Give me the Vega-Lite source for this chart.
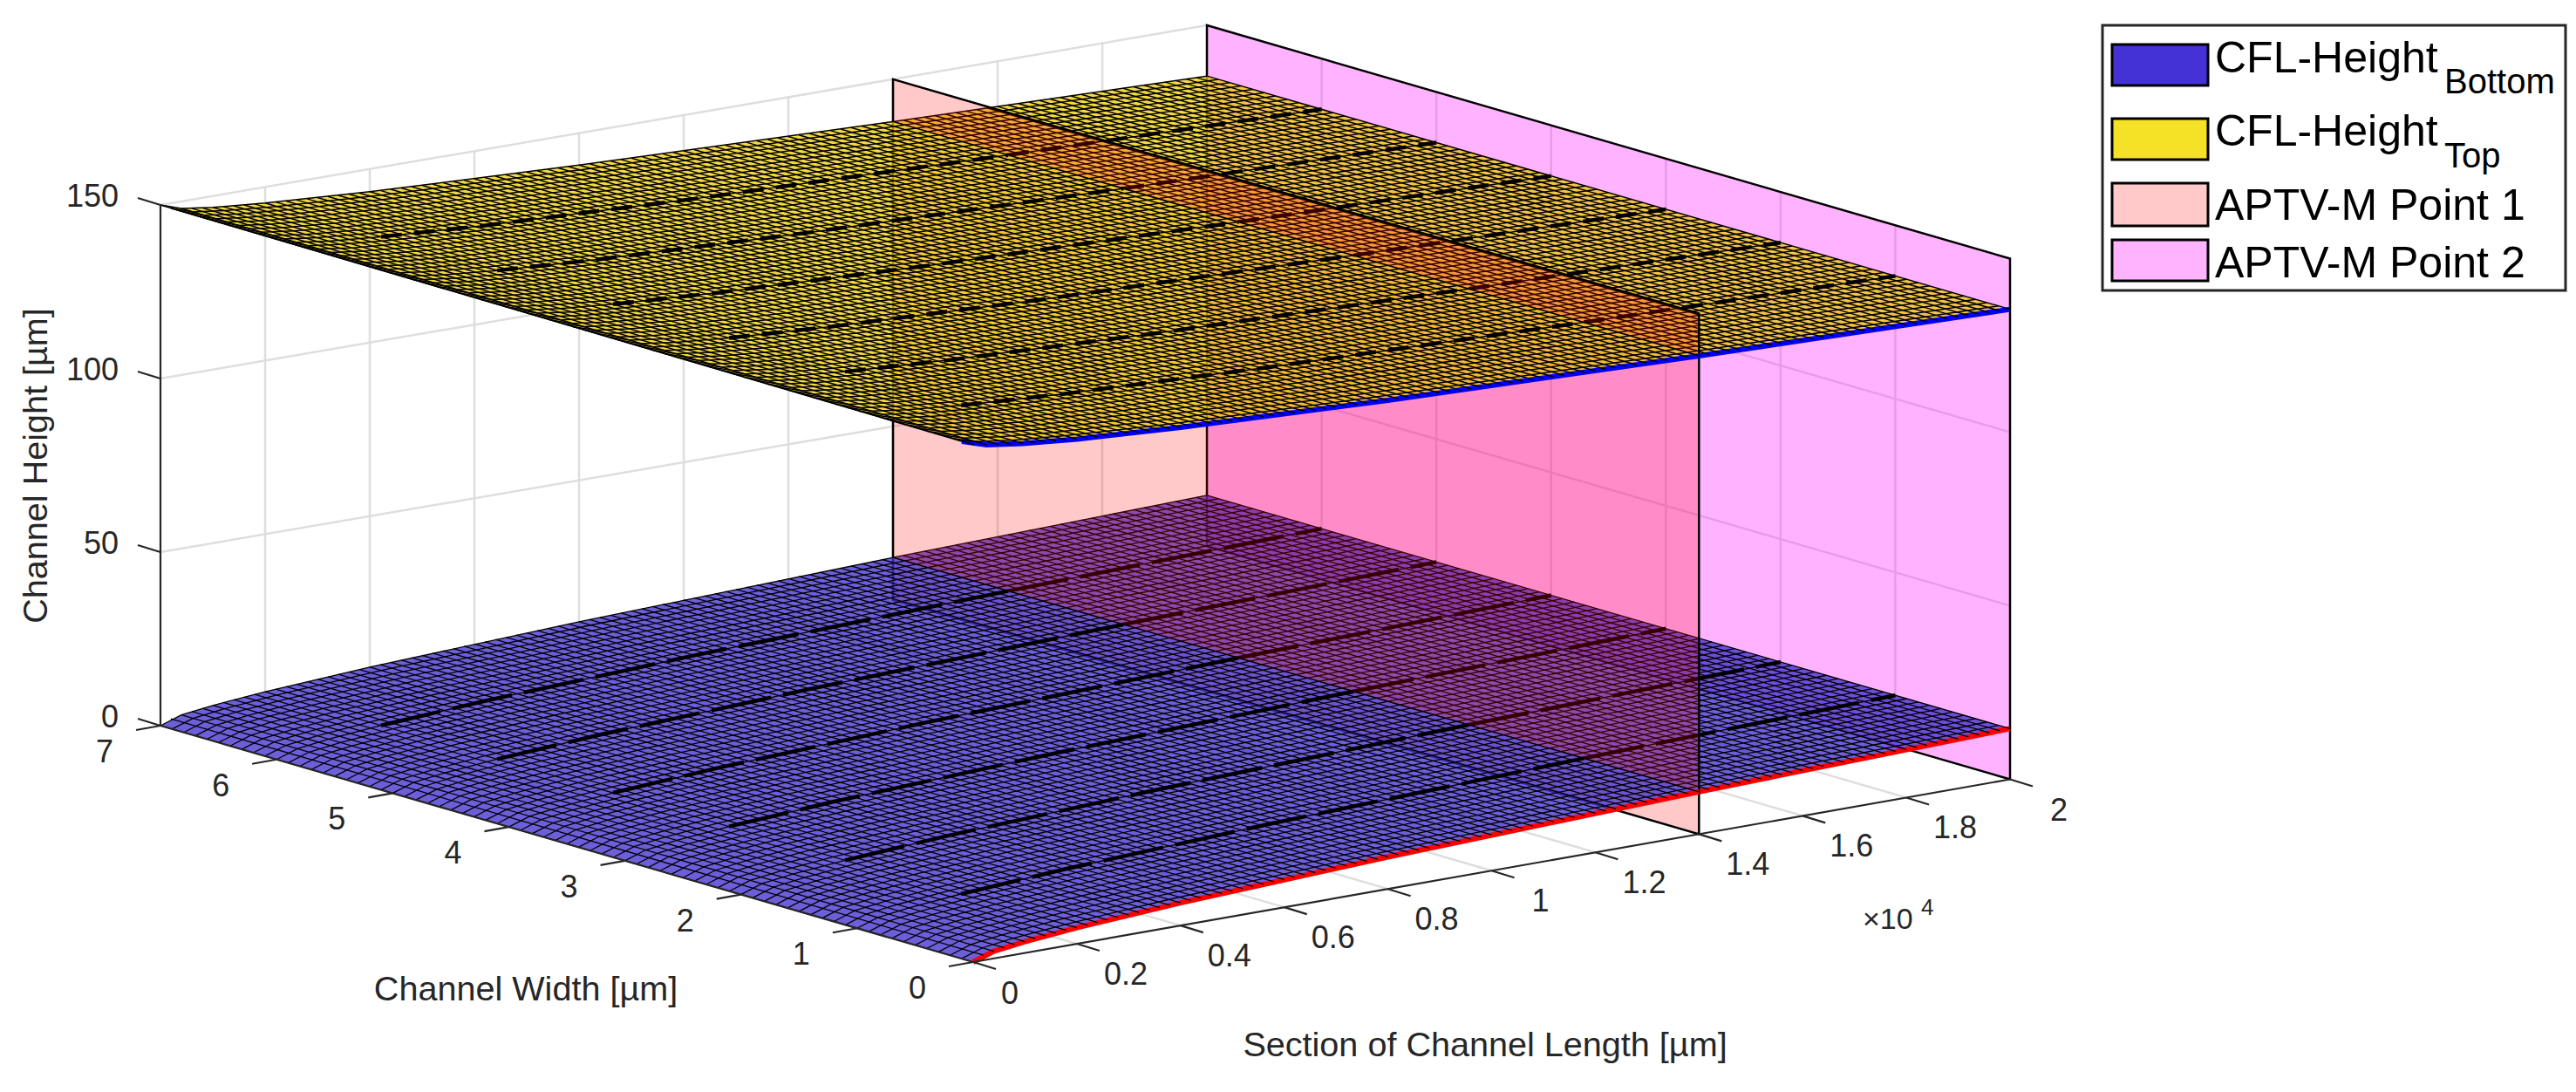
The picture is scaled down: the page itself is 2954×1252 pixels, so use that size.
{"$schema":"https://vega.github.io/schema/vega-lite/v6.json","width":2954,"height":1252,"padding":0,"autosize":{"type":"fit","contains":"padding"},"background":"white","config":{"view":{"stroke":null},"text":{"font":"Liberation Sans","color":"#262626"}},
"datasets":{
"lg":[
{"L":0,"B":0,"T":150,"W":[0,0.1,0.2,0.3,0.4,0.5,0.6,0.7,0.8,0.9,1,1.1,1.2,1.3,1.4,1.5,1.6,1.7,1.8,1.9,2,2.1,2.2,2.3,2.4,2.5,2.6,2.7,2.8,2.9,3,3.1,3.2,3.3,3.4,3.5,3.6,3.7,3.8,3.9,4,4.1,4.2,4.3,4.4,4.5,4.6,4.7,4.8,4.9,5,5.1,5.2,5.3,5.4,5.5,5.6,5.7,5.8,5.9,6,6.1,6.2,6.3,6.4,6.5,6.6,6.7,6.8,6.9,7]},
{"L":0.04,"B":2.06,"T":147.94,"W":[0,0.1,0.2,0.3,0.4,0.5,0.6,0.7,0.8,0.9,1,1.1,1.2,1.3,1.4,1.5,1.6,1.7,1.8,1.9,2,2.1,2.2,2.3,2.4,2.5,2.6,2.7,2.8,2.9,3,3.1,3.2,3.3,3.4,3.5,3.6,3.7,3.8,3.9,4,4.1,4.2,4.3,4.4,4.5,4.6,4.7,4.8,4.9,5,5.1,5.2,5.3,5.4,5.5,5.6,5.7,5.8,5.9,6,6.1,6.2,6.3,6.4,6.5,6.6,6.7,6.8,6.9,7]},
{"L":0.1,"B":3.26,"T":146.74,"W":[0,0.1,0.2,0.3,0.4,0.5,0.6,0.7,0.8,0.9,1,1.1,1.2,1.3,1.4,1.5,1.6,1.7,1.8,1.9,2,2.1,2.2,2.3,2.4,2.5,2.6,2.7,2.8,2.9,3,3.1,3.2,3.3,3.4,3.5,3.6,3.7,3.8,3.9,4,4.1,4.2,4.3,4.4,4.5,4.6,4.7,4.8,4.9,5,5.1,5.2,5.3,5.4,5.5,5.6,5.7,5.8,5.9,6,6.1,6.2,6.3,6.4,6.5,6.6,6.7,6.8,6.9,7]},
{"L":0.2,"B":4.62,"T":145.38,"W":[0,0.1,0.2,0.3,0.4,0.5,0.6,0.7,0.8,0.9,1,1.1,1.2,1.3,1.4,1.5,1.6,1.7,1.8,1.9,2,2.1,2.2,2.3,2.4,2.5,2.6,2.7,2.8,2.9,3,3.1,3.2,3.3,3.4,3.5,3.6,3.7,3.8,3.9,4,4.1,4.2,4.3,4.4,4.5,4.6,4.7,4.8,4.9,5,5.1,5.2,5.3,5.4,5.5,5.6,5.7,5.8,5.9,6,6.1,6.2,6.3,6.4,6.5,6.6,6.7,6.8,6.9,7]},
{"L":0.4,"B":6.53,"T":143.47,"W":[0,0.1,0.2,0.3,0.4,0.5,0.6,0.7,0.8,0.9,1,1.1,1.2,1.3,1.4,1.5,1.6,1.7,1.8,1.9,2,2.1,2.2,2.3,2.4,2.5,2.6,2.7,2.8,2.9,3,3.1,3.2,3.3,3.4,3.5,3.6,3.7,3.8,3.9,4,4.1,4.2,4.3,4.4,4.5,4.6,4.7,4.8,4.9,5,5.1,5.2,5.3,5.4,5.5,5.6,5.7,5.8,5.9,6,6.1,6.2,6.3,6.4,6.5,6.6,6.7,6.8,6.9,7]},
{"L":0.8,"B":9.23,"T":140.77,"W":[0,0.1,0.2,0.3,0.4,0.5,0.6,0.7,0.8,0.9,1,1.1,1.2,1.3,1.4,1.5,1.6,1.7,1.8,1.9,2,2.1,2.2,2.3,2.4,2.5,2.6,2.7,2.8,2.9,3,3.1,3.2,3.3,3.4,3.5,3.6,3.7,3.8,3.9,4,4.1,4.2,4.3,4.4,4.5,4.6,4.7,4.8,4.9,5,5.1,5.2,5.3,5.4,5.5,5.6,5.7,5.8,5.9,6,6.1,6.2,6.3,6.4,6.5,6.6,6.7,6.8,6.9,7]},
{"L":1.4,"B":12.21,"T":137.79,"W":[0,0.1,0.2,0.3,0.4,0.5,0.6,0.7,0.8,0.9,1,1.1,1.2,1.3,1.4,1.5,1.6,1.7,1.8,1.9,2,2.1,2.2,2.3,2.4,2.5,2.6,2.7,2.8,2.9,3,3.1,3.2,3.3,3.4,3.5,3.6,3.7,3.8,3.9,4,4.1,4.2,4.3,4.4,4.5,4.6,4.7,4.8,4.9,5,5.1,5.2,5.3,5.4,5.5,5.6,5.7,5.8,5.9,6,6.1,6.2,6.3,6.4,6.5,6.6,6.7,6.8,6.9,7]},
{"L":2,"B":14.6,"T":135.4,"W":[0,0.1,0.2,0.3,0.4,0.5,0.6,0.7,0.8,0.9,1,1.1,1.2,1.3,1.4,1.5,1.6,1.7,1.8,1.9,2,2.1,2.2,2.3,2.4,2.5,2.6,2.7,2.8,2.9,3,3.1,3.2,3.3,3.4,3.5,3.6,3.7,3.8,3.9,4,4.1,4.2,4.3,4.4,4.5,4.6,4.7,4.8,4.9,5,5.1,5.2,5.3,5.4,5.5,5.6,5.7,5.8,5.9,6,6.1,6.2,6.3,6.4,6.5,6.6,6.7,6.8,6.9,7]}
],
"wl":[
{"L":0,"B":0,"T":150},{"L":0.02,"B":1.46,"T":148.54},{"L":0.04,"B":2.06,"T":147.94},{"L":0.06,"B":2.53,"T":147.47},{"L":0.08,"B":2.92,"T":147.08},{"L":0.1,"B":3.26,"T":146.74},{"L":0.12,"B":3.57,"T":146.43},{"L":0.14,"B":3.86,"T":146.14},{"L":0.16,"B":4.13,"T":145.87},{"L":0.18,"B":4.38,"T":145.62},{"L":0.2,"B":4.62,"T":145.38},{"L":0.22,"B":4.84,"T":145.16},{"L":0.24,"B":5.06,"T":144.94},{"L":0.26,"B":5.26,"T":144.74},{"L":0.28,"B":5.46,"T":144.54},{"L":0.3,"B":5.65,"T":144.35},{"L":0.32,"B":5.84,"T":144.16},{"L":0.34,"B":6.02,"T":143.98},{"L":0.36,"B":6.19,"T":143.81},{"L":0.38,"B":6.36,"T":143.64},{"L":0.4,"B":6.53,"T":143.47},{"L":0.42,"B":6.69,"T":143.31},{"L":0.44,"B":6.85,"T":143.15},{"L":0.46,"B":7,"T":143},{"L":0.48,"B":7.15,"T":142.85},{"L":0.5,"B":7.3,"T":142.7},{"L":0.52,"B":7.44,"T":142.56},{"L":0.54,"B":7.58,"T":142.42},{"L":0.56,"B":7.72,"T":142.28},{"L":0.58,"B":7.86,"T":142.14},{"L":0.6,"B":7.99,"T":142.01},{"L":0.62,"B":8.13,"T":141.87},{"L":0.64,"B":8.26,"T":141.74},{"L":0.66,"B":8.38,"T":141.62},{"L":0.68,"B":8.51,"T":141.49},{"L":0.7,"B":8.63,"T":141.37},{"L":0.72,"B":8.76,"T":141.24},{"L":0.74,"B":8.88,"T":141.12},{"L":0.76,"B":9,"T":141},{"L":0.78,"B":9.11,"T":140.89},{"L":0.8,"B":9.23,"T":140.77},{"L":0.82,"B":9.35,"T":140.65},{"L":0.84,"B":9.46,"T":140.54},{"L":0.86,"B":9.57,"T":140.43},{"L":0.88,"B":9.68,"T":140.32},{"L":0.9,"B":9.79,"T":140.21},{"L":0.92,"B":9.9,"T":140.1},{"L":0.94,"B":10.01,"T":139.99},{"L":0.96,"B":10.11,"T":139.89},{"L":0.98,"B":10.22,"T":139.78},{"L":1,"B":10.32,"T":139.68},{"L":1.02,"B":10.42,"T":139.58},{"L":1.04,"B":10.52,"T":139.48},{"L":1.06,"B":10.63,"T":139.37},{"L":1.08,"B":10.72,"T":139.28},{"L":1.1,"B":10.82,"T":139.18},{"L":1.12,"B":10.92,"T":139.08},{"L":1.14,"B":11.02,"T":138.98},{"L":1.16,"B":11.12,"T":138.88},{"L":1.18,"B":11.21,"T":138.79},{"L":1.2,"B":11.31,"T":138.69},{"L":1.22,"B":11.4,"T":138.6},{"L":1.24,"B":11.49,"T":138.51},{"L":1.26,"B":11.58,"T":138.42},{"L":1.28,"B":11.68,"T":138.32},{"L":1.3,"B":11.77,"T":138.23},{"L":1.32,"B":11.86,"T":138.14},{"L":1.34,"B":11.95,"T":138.05},{"L":1.36,"B":12.04,"T":137.96},{"L":1.38,"B":12.12,"T":137.88},{"L":1.4,"B":12.21,"T":137.79},{"L":1.42,"B":12.3,"T":137.7},{"L":1.44,"B":12.38,"T":137.62},{"L":1.46,"B":12.47,"T":137.53},{"L":1.48,"B":12.55,"T":137.45},{"L":1.5,"B":12.64,"T":137.36},{"L":1.52,"B":12.72,"T":137.28},{"L":1.54,"B":12.81,"T":137.19},{"L":1.56,"B":12.89,"T":137.11},{"L":1.58,"B":12.97,"T":137.03},{"L":1.6,"B":13.05,"T":136.95},{"L":1.62,"B":13.14,"T":136.86},{"L":1.64,"B":13.22,"T":136.78},{"L":1.66,"B":13.3,"T":136.7},{"L":1.68,"B":13.38,"T":136.62},{"L":1.7,"B":13.46,"T":136.54},{"L":1.72,"B":13.54,"T":136.46},{"L":1.74,"B":13.61,"T":136.39},{"L":1.76,"B":13.69,"T":136.31},{"L":1.78,"B":13.77,"T":136.23},{"L":1.8,"B":13.85,"T":136.15},{"L":1.82,"B":13.92,"T":136.08},{"L":1.84,"B":14,"T":136},{"L":1.86,"B":14.08,"T":135.92},{"L":1.88,"B":14.15,"T":135.85},{"L":1.9,"B":14.23,"T":135.77},{"L":1.92,"B":14.3,"T":135.7},{"L":1.94,"B":14.37,"T":135.63},{"L":1.96,"B":14.45,"T":135.55},{"L":1.98,"B":14.52,"T":135.48},{"L":2,"B":14.6,"T":135.4}
],
"poly":[
{"p":"P2","o":0,"L":2,"W":0,"Z":0},{"p":"P2","o":1,"L":2,"W":7,"Z":0},{"p":"P2","o":2,"L":2,"W":7,"Z":150},{"p":"P2","o":3,"L":2,"W":0,"Z":150},{"p":"P2","o":4,"L":2,"W":0,"Z":0},
{"p":"P1l","o":0,"L":1.4,"W":7,"Z":137.79},{"p":"P1l","o":1,"L":1.4,"W":7,"Z":0},{"p":"P1l","o":2,"L":1.4,"W":0,"Z":0},{"p":"P1l","o":3,"L":1.4,"W":0,"Z":137.79},
{"p":"P1u","o":0,"L":1.4,"W":0,"Z":137.79},{"p":"P1u","o":1,"L":1.4,"W":0,"Z":150},{"p":"P1u","o":2,"L":1.4,"W":7,"Z":150},{"p":"P1u","o":3,"L":1.4,"W":7,"Z":137.79}
],
"seg":[
{"k":"g","L":0.2,"W":0,"Z":0,"L2":0.2,"W2":7,"Z2":0},{"k":"g","L":0.4,"W":0,"Z":0,"L2":0.4,"W2":7,"Z2":0},{"k":"g","L":0.6,"W":0,"Z":0,"L2":0.6,"W2":7,"Z2":0},{"k":"g","L":0.8,"W":0,"Z":0,"L2":0.8,"W2":7,"Z2":0},{"k":"g","L":1,"W":0,"Z":0,"L2":1,"W2":7,"Z2":0},{"k":"g","L":1.2,"W":0,"Z":0,"L2":1.2,"W2":7,"Z2":0},{"k":"g","L":1.4,"W":0,"Z":0,"L2":1.4,"W2":7,"Z2":0},{"k":"g","L":1.6,"W":0,"Z":0,"L2":1.6,"W2":7,"Z2":0},{"k":"g","L":1.8,"W":0,"Z":0,"L2":1.8,"W2":7,"Z2":0},
{"k":"g","L":0.2,"W":7,"Z":0,"L2":0.2,"W2":7,"Z2":150},{"k":"g","L":0.4,"W":7,"Z":0,"L2":0.4,"W2":7,"Z2":150},{"k":"g","L":0.6,"W":7,"Z":0,"L2":0.6,"W2":7,"Z2":150},{"k":"g","L":0.8,"W":7,"Z":0,"L2":0.8,"W2":7,"Z2":150},{"k":"g","L":1,"W":7,"Z":0,"L2":1,"W2":7,"Z2":150},{"k":"g","L":1.2,"W":7,"Z":0,"L2":1.2,"W2":7,"Z2":150},{"k":"g","L":1.4,"W":7,"Z":0,"L2":1.4,"W2":7,"Z2":150},{"k":"g","L":1.6,"W":7,"Z":0,"L2":1.6,"W2":7,"Z2":150},{"k":"g","L":1.8,"W":7,"Z":0,"L2":1.8,"W2":7,"Z2":150},
{"k":"g","L":0,"W":7,"Z":50,"L2":2,"W2":7,"Z2":50},{"k":"g","L":0,"W":7,"Z":100,"L2":2,"W2":7,"Z2":100},{"k":"g","L":0,"W":7,"Z":150,"L2":2,"W2":7,"Z2":150},
{"k":"g","L":2,"W":1,"Z":0,"L2":2,"W2":1,"Z2":150},{"k":"g","L":2,"W":2,"Z":0,"L2":2,"W2":2,"Z2":150},{"k":"g","L":2,"W":3,"Z":0,"L2":2,"W2":3,"Z2":150},{"k":"g","L":2,"W":4,"Z":0,"L2":2,"W2":4,"Z2":150},{"k":"g","L":2,"W":5,"Z":0,"L2":2,"W2":5,"Z2":150},{"k":"g","L":2,"W":6,"Z":0,"L2":2,"W2":6,"Z2":150},
{"k":"g","L":2,"W":7,"Z":50,"L2":2,"W2":0,"Z2":50},{"k":"g","L":2,"W":7,"Z":100,"L2":2,"W2":0,"Z2":100},
{"k":"a","L":0,"W":0,"Z":0,"L2":2,"W2":0,"Z2":0},{"k":"a","L":0,"W":0,"Z":0,"L2":0,"W2":7,"Z2":0},{"k":"a","L":0,"W":7,"Z":0,"L2":0,"W2":7,"Z2":150}
],
"tk":[
{"ax":"L","L":0,"W":0,"Z":0,"lab":"0"},{"ax":"L","L":0.2,"W":0,"Z":0,"lab":"0.2"},{"ax":"L","L":0.4,"W":0,"Z":0,"lab":"0.4"},{"ax":"L","L":0.6,"W":0,"Z":0,"lab":"0.6"},{"ax":"L","L":0.8,"W":0,"Z":0,"lab":"0.8"},{"ax":"L","L":1,"W":0,"Z":0,"lab":"1"},{"ax":"L","L":1.2,"W":0,"Z":0,"lab":"1.2"},{"ax":"L","L":1.4,"W":0,"Z":0,"lab":"1.4"},{"ax":"L","L":1.6,"W":0,"Z":0,"lab":"1.6"},{"ax":"L","L":1.8,"W":0,"Z":0,"lab":"1.8"},{"ax":"L","L":2,"W":0,"Z":0,"lab":"2"},
{"ax":"W","L":0,"W":0,"Z":0,"lab":"0"},{"ax":"W","L":0,"W":1,"Z":0,"lab":"1"},{"ax":"W","L":0,"W":2,"Z":0,"lab":"2"},{"ax":"W","L":0,"W":3,"Z":0,"lab":"3"},{"ax":"W","L":0,"W":4,"Z":0,"lab":"4"},{"ax":"W","L":0,"W":5,"Z":0,"lab":"5"},{"ax":"W","L":0,"W":6,"Z":0,"lab":"6"},{"ax":"W","L":0,"W":7,"Z":0,"lab":"7"},
{"ax":"Z","L":0,"W":7,"Z":0,"lab":"0"},{"ax":"Z","L":0,"W":7,"Z":50,"lab":"50"},{"ax":"Z","L":0,"W":7,"Z":100,"lab":"100"},{"ax":"Z","L":0,"W":7,"Z":150,"lab":"150"}
],
"frame":[
{"k":"title","text":"Channel Width [µm]","u":603,"v":1135},{"k":"title","text":"Section of Channel Length [µm]","u":1703,"v":1199},
{"k":"ytitle","text":"Channel Height [µm]","u":42,"v":534},
{"k":"mult","text":"×10","u":2136,"v":1065},{"k":"exp","text":"4","u":2203,"v":1049},
{"k":"box","u":2411,"v":29,"u2":2942,"v2":333},
{"k":"sw","name":"CFL-Height Bottom","u":2422,"v":51,"u2":2532,"v2":98},{"k":"sw","name":"CFL-Height Top","u":2422,"v":136,"u2":2532,"v2":183},{"k":"sw","name":"APTV-M Point 1","u":2422,"v":210,"u2":2532,"v2":259},{"k":"sw","name":"APTV-M Point 2","u":2422,"v":275,"u2":2532,"v2":322},
{"k":"leg","text":"CFL-Height","u":2540,"v":83},{"k":"sub","text":"Bottom","u":2803,"v":107},{"k":"leg","text":"CFL-Height","u":2540,"v":167},{"k":"sub","text":"Top","u":2803,"v":192},{"k":"leg","text":"APTV-M Point 1","u":2540,"v":252},{"k":"leg","text":"APTV-M Point 2","u":2540,"v":318}
]
},
"data":{"name":"lg"},
"transform":[{"flatten":["W"]},{"calculate":"1116+594.5*datum.L-133.14*datum.W+0.786*datum.L*datum.W","as":"u"},{"calculate":"datum.W==0?datum.L:10-datum.L","as":"o"}],
"encoding":{"x":{"field":"u","type":"quantitative","scale":{"domain":[0,2954],"nice":false,"zero":false},"axis":null},"y":{"field":"v","type":"quantitative","scale":{"domain":[1252,0],"nice":false,"zero":false},"axis":null}},
"layer":[
{"data":{"name":"seg"},"transform":[{"filter":"datum.k=='g'"},{"calculate":"1116+594.5*datum.L-133.14*datum.W+0.786*datum.L*datum.W","as":"u"},{"calculate":"1103-104.75*datum.L-38.71*datum.W+0.25*datum.L*datum.W-3.98*datum.Z","as":"v"},{"calculate":"1116+594.5*datum.L2-133.14*datum.W2+0.786*datum.L2*datum.W2","as":"u2"},{"calculate":"1103-104.75*datum.L2-38.71*datum.W2+0.25*datum.L2*datum.W2-3.98*datum.Z2","as":"v2"}],"mark":{"type":"rule","color":"#dedede","strokeWidth":2.5},"encoding":{"x2":{"field":"u2"},"y2":{"field":"v2"}}},
{"data":{"name":"poly"},"transform":[{"filter":"datum.p=='P2'"},{"calculate":"1116+594.5*datum.L-133.14*datum.W+0.786*datum.L*datum.W","as":"u"},{"calculate":"1103-104.75*datum.L-38.71*datum.W+0.25*datum.L*datum.W-3.98*datum.Z","as":"v"}],"mark":{"type":"line","fill":"#ff00ff","fillOpacity":0.3,"stroke":"#000000","strokeWidth":2.5},"encoding":{"order":{"field":"o","type":"quantitative"}}},
{"transform":[{"calculate":"1103-104.75*datum.L-38.71*datum.W+0.25*datum.L*datum.W-3.98*datum.B","as":"v"},{"filter":"datum.L>=1.4"}],"layer":[
{"transform":[{"filter":"datum.W==0||datum.W==7"}],"mark":{"type":"line","fill":"#4432d0","fillOpacity":0.78,"strokeWidth":0},"encoding":{"order":{"field":"o","type":"quantitative"}}},
{"transform":[{"filter":"datum.W==0"}],"mark":{"type":"line","stroke":"#ff0000","strokeWidth":6},"encoding":{"order":{"field":"L","type":"quantitative"}}},
{"transform":[{"filter":"datum.W>0"}],"mark":{"type":"line","stroke":"#000000","strokeWidth":1.3},"encoding":{"detail":{"field":"W","type":"nominal"},"order":{"field":"L","type":"quantitative"}}},
{"transform":[{"filter":"datum.W%1==0&&datum.W>0&&datum.W<7"}],"mark":{"type":"line","stroke":"#000000","strokeWidth":4.5,"strokeDash":[70,14]},"encoding":{"detail":{"field":"W","type":"nominal"},"order":{"field":"L","type":"quantitative"}}},
{"data":{"name":"wl"},"transform":[{"filter":"datum.L>=1.4"},{"calculate":"1116+594.5*datum.L","as":"u"},{"calculate":"184+600*datum.L","as":"u2"},{"calculate":"1103-104.75*datum.L-3.98*datum.B","as":"v"},{"calculate":"832-103*datum.L-3.98*datum.B","as":"v2"}],"mark":{"type":"rule","color":"#000000","strokeWidth":1.3},"encoding":{"x2":{"field":"u2"},"y2":{"field":"v2"}}}
]},
{"data":{"name":"poly"},"transform":[{"filter":"datum.p=='P1l'"},{"calculate":"1116+594.5*datum.L-133.14*datum.W+0.786*datum.L*datum.W","as":"u"},{"calculate":"1103-104.75*datum.L-38.71*datum.W+0.25*datum.L*datum.W-3.98*datum.Z","as":"v"}],"mark":{"type":"line","fill":"#ff0000","fillOpacity":0.21,"stroke":"#000000","strokeWidth":2.5},"encoding":{"order":{"field":"o","type":"quantitative"}}},
{"transform":[{"calculate":"1103-104.75*datum.L-38.71*datum.W+0.25*datum.L*datum.W-3.98*datum.B","as":"v"},{"filter":"datum.L<=1.4"}],"layer":[
{"transform":[{"filter":"datum.W==0||datum.W==7"}],"mark":{"type":"line","fill":"#4432d0","fillOpacity":0.78,"strokeWidth":0},"encoding":{"order":{"field":"o","type":"quantitative"}}},
{"transform":[{"filter":"datum.W==0"}],"mark":{"type":"line","stroke":"#ff0000","strokeWidth":6},"encoding":{"order":{"field":"L","type":"quantitative"}}},
{"transform":[{"filter":"datum.W>0"}],"mark":{"type":"line","stroke":"#000000","strokeWidth":1.3},"encoding":{"detail":{"field":"W","type":"nominal"},"order":{"field":"L","type":"quantitative"}}},
{"transform":[{"filter":"datum.W%1==0&&datum.W>0&&datum.W<7&&datum.L>=0.2"}],"mark":{"type":"line","stroke":"#000000","strokeWidth":4.5,"strokeDash":[70,14]},"encoding":{"detail":{"field":"W","type":"nominal"},"order":{"field":"L","type":"quantitative"}}},
{"data":{"name":"wl"},"transform":[{"filter":"datum.L<=1.4"},{"calculate":"1116+594.5*datum.L","as":"u"},{"calculate":"184+600*datum.L","as":"u2"},{"calculate":"1103-104.75*datum.L-3.98*datum.B","as":"v"},{"calculate":"832-103*datum.L-3.98*datum.B","as":"v2"}],"mark":{"type":"rule","color":"#000000","strokeWidth":1.3},"encoding":{"x2":{"field":"u2"},"y2":{"field":"v2"}}}
]},
{"transform":[{"calculate":"1103-104.75*datum.L-38.71*datum.W+0.25*datum.L*datum.W-3.98*datum.T","as":"v"},{"filter":"datum.L>=1.4"}],"layer":[
{"transform":[{"filter":"datum.W==0||datum.W==7"}],"mark":{"type":"line","fill":"#eecb00","fillOpacity":0.72,"strokeWidth":0},"encoding":{"order":{"field":"o","type":"quantitative"}}},
{"transform":[{"filter":"datum.W==0"}],"mark":{"type":"line","stroke":"#0000ff","strokeWidth":6},"encoding":{"order":{"field":"L","type":"quantitative"}}},
{"transform":[{"filter":"datum.W>0"}],"mark":{"type":"line","stroke":"#000000","strokeWidth":1.5},"encoding":{"detail":{"field":"W","type":"nominal"},"order":{"field":"L","type":"quantitative"}}},
{"transform":[{"filter":"datum.W%1==0&&datum.W>0&&datum.W<7"}],"mark":{"type":"line","stroke":"#000000","strokeWidth":4.5,"strokeDash":[24,14]},"encoding":{"detail":{"field":"W","type":"nominal"},"order":{"field":"L","type":"quantitative"}}},
{"data":{"name":"wl"},"transform":[{"filter":"datum.L>=1.4"},{"calculate":"1116+594.5*datum.L","as":"u"},{"calculate":"184+600*datum.L","as":"u2"},{"calculate":"1103-104.75*datum.L-3.98*datum.T","as":"v"},{"calculate":"832-103*datum.L-3.98*datum.T","as":"v2"}],"mark":{"type":"rule","color":"#000000","strokeWidth":1.5},"encoding":{"x2":{"field":"u2"},"y2":{"field":"v2"}}}
]},
{"data":{"name":"poly"},"transform":[{"filter":"datum.p=='P1u'"},{"calculate":"1116+594.5*datum.L-133.14*datum.W+0.786*datum.L*datum.W","as":"u"},{"calculate":"1103-104.75*datum.L-38.71*datum.W+0.25*datum.L*datum.W-3.98*datum.Z","as":"v"}],"mark":{"type":"line","fill":"#ff0000","fillOpacity":0.21,"stroke":"#000000","strokeWidth":2.5},"encoding":{"order":{"field":"o","type":"quantitative"}}},
{"transform":[{"calculate":"1103-104.75*datum.L-38.71*datum.W+0.25*datum.L*datum.W-3.98*datum.T","as":"v"},{"calculate":"datum.u-13*(1-datum.W/7)*max(0,1-datum.L/0.12)","as":"u"},{"filter":"datum.L<=1.4"}],"layer":[
{"transform":[{"filter":"datum.W==0||datum.W==7"}],"mark":{"type":"line","fill":"#eecb00","fillOpacity":0.72,"strokeWidth":0},"encoding":{"order":{"field":"o","type":"quantitative"}}},
{"transform":[{"filter":"datum.W==0"}],"mark":{"type":"line","stroke":"#0000ff","strokeWidth":6},"encoding":{"order":{"field":"L","type":"quantitative"}}},
{"transform":[{"filter":"datum.W>0"}],"mark":{"type":"line","stroke":"#000000","strokeWidth":1.5},"encoding":{"detail":{"field":"W","type":"nominal"},"order":{"field":"L","type":"quantitative"}}},
{"transform":[{"filter":"datum.W%1==0&&datum.W>0&&datum.W<7&&datum.L>=0.2"}],"mark":{"type":"line","stroke":"#000000","strokeWidth":4.5,"strokeDash":[24,14]},"encoding":{"detail":{"field":"W","type":"nominal"},"order":{"field":"L","type":"quantitative"}}},
{"data":{"name":"wl"},"transform":[{"filter":"datum.L<=1.4"},{"calculate":"1116+594.5*datum.L-13*max(0,1-datum.L/0.12)","as":"u"},{"calculate":"184+600*datum.L","as":"u2"},{"calculate":"1103-104.75*datum.L-3.98*datum.T","as":"v"},{"calculate":"832-103*datum.L-3.98*datum.T","as":"v2"}],"mark":{"type":"rule","color":"#000000","strokeWidth":1.5},"encoding":{"x2":{"field":"u2"},"y2":{"field":"v2"}}}
]},
{"data":{"name":"seg"},"transform":[{"filter":"datum.k=='a'"},{"calculate":"1116+594.5*datum.L-133.14*datum.W+0.786*datum.L*datum.W","as":"u"},{"calculate":"1103-104.75*datum.L-38.71*datum.W+0.25*datum.L*datum.W-3.98*datum.Z","as":"v"},{"calculate":"1116+594.5*datum.L2-133.14*datum.W2+0.786*datum.L2*datum.W2","as":"u2"},{"calculate":"1103-104.75*datum.L2-38.71*datum.W2+0.25*datum.L2*datum.W2-3.98*datum.Z2","as":"v2"}],"mark":{"type":"rule","color":"#262626","strokeWidth":2.2},"encoding":{"x2":{"field":"u2"},"y2":{"field":"v2"}}},
{"data":{"name":"tk"},"transform":[{"calculate":"1116+594.5*datum.L-133.14*datum.W+0.786*datum.L*datum.W","as":"u"},{"calculate":"1103-104.75*datum.L-38.71*datum.W+0.25*datum.L*datum.W-3.98*datum.Z","as":"v"},{"calculate":"datum.u+(datum.ax=='L'?26:datum.ax=='W'?-28:-26)","as":"u2"},{"calculate":"datum.v+(datum.ax=='L'?8:datum.ax=='W'?5:-8)","as":"v2"}],"layer":[
{"mark":{"type":"rule","color":"#262626","strokeWidth":2.2},"encoding":{"x2":{"field":"u2"},"y2":{"field":"v2"}}},
{"transform":[{"filter":"datum.ax=='L'&&datum.L>0"}],"mark":{"type":"text","fontSize":36,"align":"center","baseline":"middle","dx":56,"dy":36},"encoding":{"text":{"field":"lab"}}},
{"transform":[{"filter":"datum.ax=='L'&&datum.L==0"}],"mark":{"type":"text","fontSize":36,"align":"center","baseline":"middle","dx":42,"dy":37},"encoding":{"text":{"field":"lab"}}},
{"transform":[{"filter":"datum.ax=='W'"}],"mark":{"type":"text","fontSize":36,"align":"center","baseline":"middle","dx":-64,"dy":31},"encoding":{"text":{"field":"lab"}}},
{"transform":[{"filter":"datum.ax=='Z'"}],"mark":{"type":"text","fontSize":36,"align":"right","baseline":"middle","dx":-48,"dy":-9},"encoding":{"text":{"field":"lab"}}}
]},
{"data":{"name":"frame"},"layer":[
{"transform":[{"filter":"datum.k=='title'"}],"mark":{"type":"text","fontSize":39.6,"align":"center","baseline":"middle"},"encoding":{"text":{"field":"text"}}},
{"transform":[{"filter":"datum.k=='ytitle'"}],"mark":{"type":"text","fontSize":39.6,"align":"center","baseline":"middle","angle":270},"encoding":{"text":{"field":"text"}}},
{"transform":[{"filter":"datum.k=='mult'"}],"mark":{"type":"text","fontSize":34,"align":"left","baseline":"alphabetic"},"encoding":{"text":{"field":"text"}}},
{"transform":[{"filter":"datum.k=='exp'"}],"mark":{"type":"text","fontSize":26,"align":"left","baseline":"alphabetic"},"encoding":{"text":{"field":"text"}}},
{"transform":[{"filter":"datum.k=='box'"}],"mark":{"type":"rect","fill":"#ffffff","stroke":"#262626","strokeWidth":3},"encoding":{"x2":{"field":"u2"},"y2":{"field":"v2"}}},
{"transform":[{"filter":"datum.k=='sw'"}],"mark":{"type":"rect","stroke":"#000000","strokeWidth":3},"encoding":{"x2":{"field":"u2"},"y2":{"field":"v2"},"fill":{"field":"name","type":"nominal","legend":null,"scale":{"domain":["CFL-Height Bottom","CFL-Height Top","APTV-M Point 1","APTV-M Point 2"],"range":["#4432d6","#f5e125","#ffc9c9","#ffb3ff"]}}}},
{"transform":[{"filter":"datum.k=='leg'"}],"mark":{"type":"text","fontSize":50,"align":"left","baseline":"alphabetic","color":"#000000"},"encoding":{"text":{"field":"text"}}},
{"transform":[{"filter":"datum.k=='sub'"}],"mark":{"type":"text","fontSize":40,"align":"left","baseline":"alphabetic","color":"#000000"},"encoding":{"text":{"field":"text"}}}
]}
]}
